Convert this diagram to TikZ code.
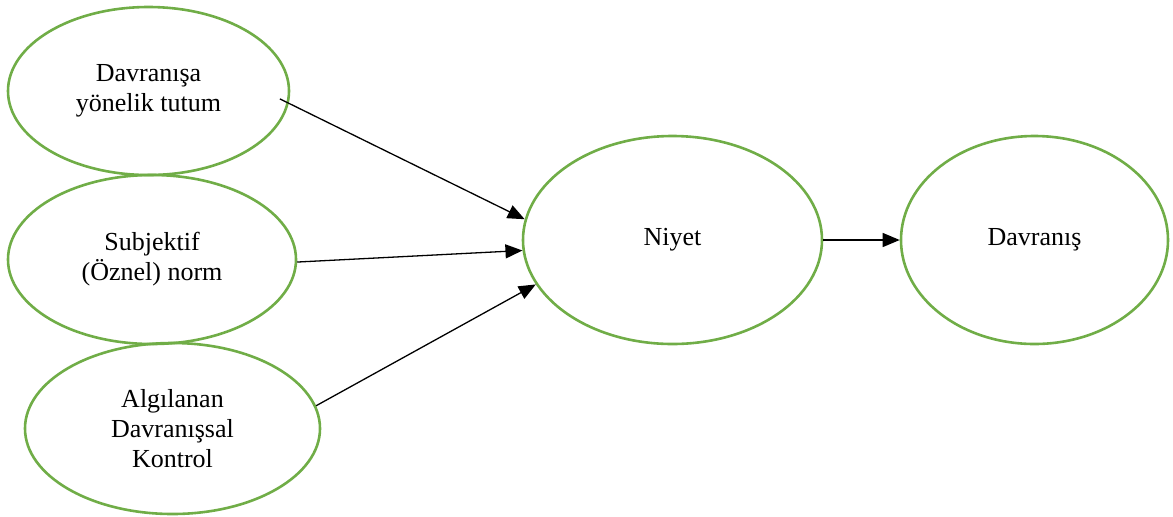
\documentclass[tikz,border=0pt]{standalone}
\usepackage{fontspec}
\setmainfont{Liberation Serif}
\usetikzlibrary{shapes.geometric,arrows.meta}
\definecolor{ellgreen}{HTML}{70AD47}
\begin{document}
\begin{tikzpicture}[x=0.5pt,y=-0.5pt,
  oval/.style={ellipse,draw=ellgreen,line width=1.3pt,inner sep=0pt,align=center,font=\fontsize{13}{15}\selectfont},
  link/.style={draw=black,line width=0.65pt,-{Triangle[length=8.5pt,width=7pt]}}]
\useasboundingbox (0,0) rectangle (1173,516);
\node[oval,minimum width=140.5pt,minimum height=84pt] (e1) at (148.5,91) {Davranışa\\yönelik tutum};
\node[oval,minimum width=144pt,minimum height=84.5pt] (e2) at (152,259.5) {Subjektif\\(Öznel) norm};
\node[oval,minimum width=147.5pt,minimum height=85.5pt] (e3) at (172.5,428.5) {Algılanan\\Davranışsal\\Kontrol};
\node[oval,minimum width=149.5pt,minimum height=104pt] (n) at (672.5,240) {Niyet};
\node[oval,minimum width=133.5pt,minimum height=104pt] (d) at (1034.5,240) {Davranış};
\draw[link,shorten <=-5pt] (e1.-5.9) -- (n.172.7);
\draw[link] (e2.-1.8) -- (n.184.3);
\draw[link] (e3.9.7) -- (n.198.8);
\draw[link] (n.east) -- (d.west);
\end{tikzpicture}
\end{document}
